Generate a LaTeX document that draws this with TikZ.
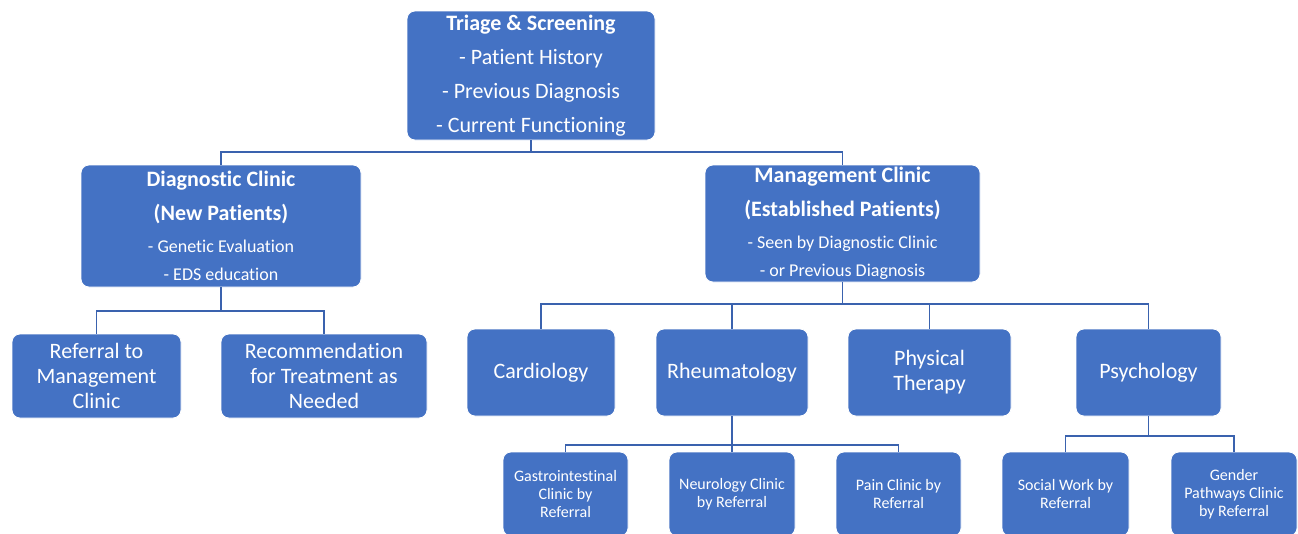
\documentclass[tikz,border=0pt]{standalone}
\usepackage{fontspec}
\setmainfont{Carlito}[RawFeature={-liga;-clig;-dlig}]
\usetikzlibrary{positioning, calc}
\definecolor{boxblue}{HTML}{4472C4}
\definecolor{linkblue}{HTML}{3A62AE}

\tikzset{
  box/.style={draw=white, line width=0.8pt, fill=boxblue, text=white, rounded corners=8pt,
    align=center, inner sep=2pt, font=\fontsize{22}{25}\selectfont},
  smallbox/.style={box, font=\fontsize{16}{18}\selectfont},
  link/.style={draw=linkblue, line width=1.6pt},
}
\newcommand{\subline}[1]{{\fontsize{18}{28}\selectfont #1}}

\begin{document}
\begin{tikzpicture}[x=1pt, y=-1pt]
\useasboundingbox (0,0) rectangle (1298,533);
\clip (0,0) rectangle (1298,533);

% top
\node[box, minimum width=248, minimum height=129, font=\fontsize{22}{34}\selectfont] (triage) at (531,75.5)
  {\textbf{Triage \& Screening}\\ - Patient History\\ - Previous Diagnosis\\ - Current Functioning};

% second level
\node[box, minimum width=280, minimum height=122, font=\fontsize{22}{34}\selectfont] (diag) at (221,226)
  {\textbf{Diagnostic Clinic}\\ \textbf{(New Patients)}\\[-2pt] \subline{- Genetic Evaluation}\\[-6pt] \subline{- EDS education}};
\node[box, minimum width=275, minimum height=117, font=\fontsize{22}{34}\selectfont] (mgmt) at (842.5,223.5)
  {\textbf{Management Clinic}\\ \textbf{(Established Patients)}\\[-2pt] \subline{- Seen by Diagnostic Clinic}\\[-6pt] \subline{- or Previous Diagnosis}};

% under diagnostic clinic
\node[box, minimum width=169, minimum height=84] (referral) at (96.5,376) {Referral to\\ Management\\ Clinic};
\node[box, minimum width=206, minimum height=84] (recommend) at (324,376) {Recommendation\\ for Treatment as\\ Needed};

% under management clinic
\node[box, minimum width=148, minimum height=87] (cardio) at (541,372.5) {Cardiology};
\node[box, minimum width=152, minimum height=87] (rheum) at (732,372.5) {Rheumatology};
\node[box, minimum width=163, minimum height=87] (physio) at (929.5,372.5) {Physical\\ Therapy};
\node[box, minimum width=145, minimum height=87] (psych) at (1148.5,372.5) {Psychology};

% referrals
\node[smallbox, minimum width=125, minimum height=84] (gastro) at (565.5,494) {Gastrointestinal\\ Clinic by\\ Referral};
\node[smallbox, minimum width=126, minimum height=84] (neuro) at (732,494) {Neurology Clinic\\ by Referral};
\node[smallbox, minimum width=125, minimum height=84] (pain) at (898.5,494) {Pain Clinic by\\ Referral};
\node[smallbox, minimum width=127, minimum height=84] (social) at (1065.5,494) {Social Work by\\ Referral};
\node[smallbox, minimum width=126, minimum height=84] (gender) at (1234,494) {Gender\\ Pathways Clinic\\ by Referral};

% connectors
\coordinate (bustop) at (531,152);
\coordinate (busdiag) at (221,311);
\coordinate (busmgmt) at (842.5,304);
\coordinate (busrheum) at (732,445);
\coordinate (buspsych) at (1148.5,436);

\draw[link] (triage.south) -- (bustop);
\draw[link] (diag.north) |- (bustop) -| (mgmt.north);

\draw[link] (diag.south) -- (busdiag);
\draw[link] (referral.north) |- (busdiag) -| (recommend.north);

\draw[link] (mgmt.south) -- (busmgmt);
\draw[link] (cardio.north) |- (busmgmt) -| (psych.north);
\draw[link] (rheum.north) -- (rheum.north |- busmgmt);
\draw[link] (physio.north) -- (physio.north |- busmgmt);

\draw[link] (rheum.south) -- (neuro.north);
\draw[link] (gastro.north) |- (busrheum) -| (pain.north);

\draw[link] (psych.south) -- (buspsych);
\draw[link] (social.north) |- (buspsych) -| (gender.north);
\end{tikzpicture}
\end{document}
